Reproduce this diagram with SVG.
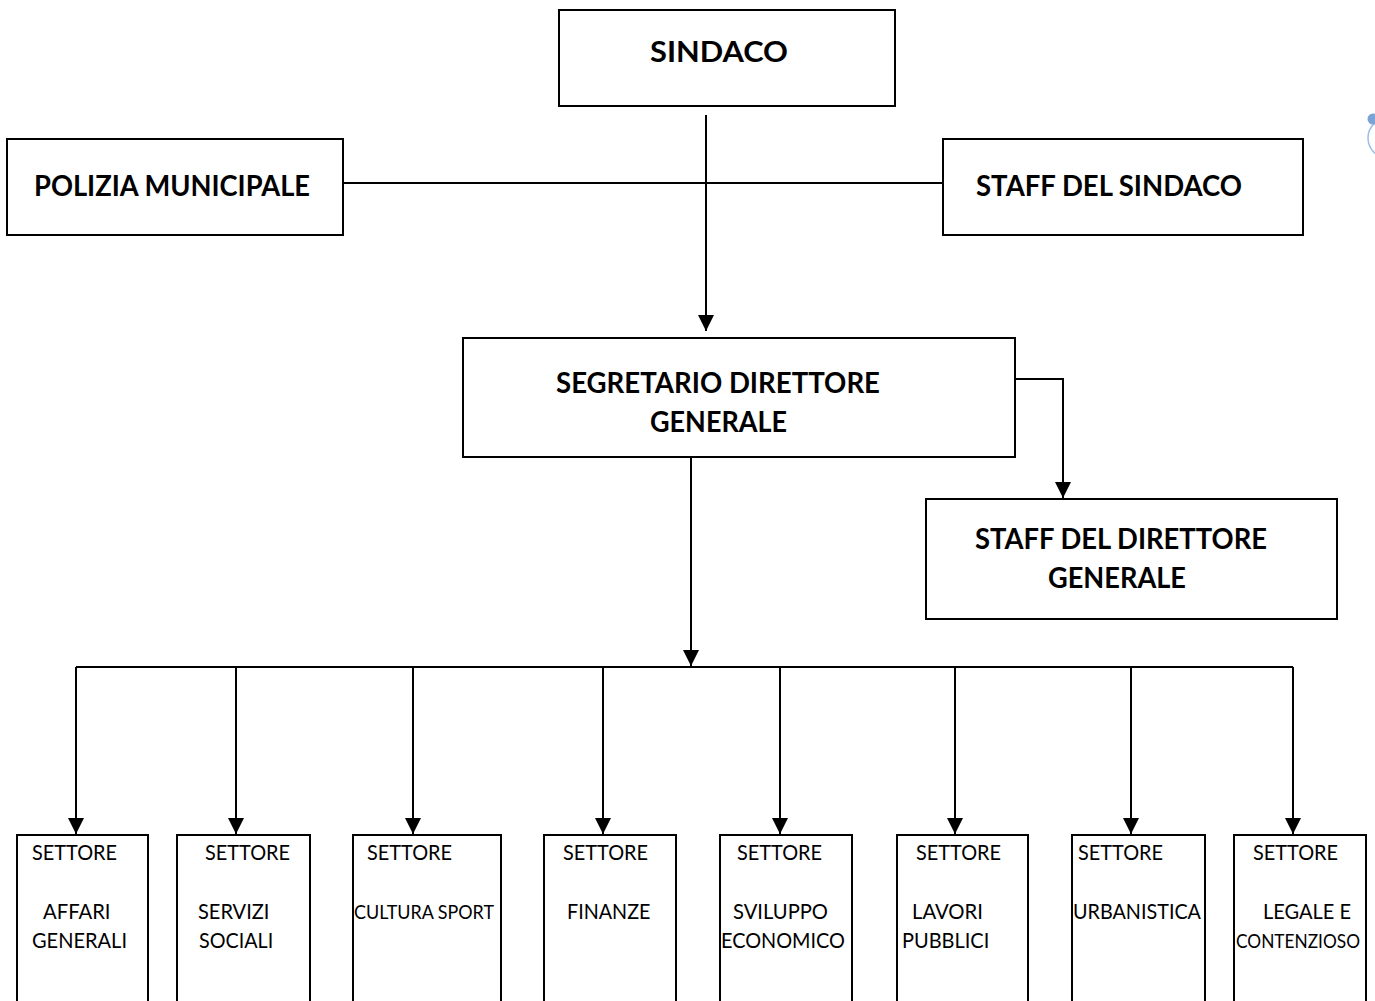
<svg xmlns="http://www.w3.org/2000/svg" width="1375" height="1001" viewBox="0 0 1375 1001">
<style>
.box{fill:#fff;stroke:#000;stroke-width:2}
.b{font-family:Lato,"Open Sans","Liberation Sans",sans-serif;font-weight:bold;font-size:28.5px;fill:#000}
.t{font-family:Lato,"Open Sans","Liberation Sans",sans-serif;font-size:21px;fill:#000}
.s{font-size:18.8px}
.c{fill:none;stroke:#000;stroke-width:2}
</style>
<defs>
<marker id="ah" markerUnits="userSpaceOnUse" markerWidth="16" markerHeight="16" refX="16" refY="8" orient="auto" viewBox="0 0 16 16">
<path d="M0,0 L16,8 L0,16 z" fill="#000"/>
</marker>
</defs>
<rect width="1375" height="1001" fill="#fff"/>

<g id="decoration">
<circle cx="1388" cy="138" r="20" fill="none" stroke="#9ebde6" stroke-width="1.5"/>
<circle cx="1373" cy="119" r="5.5" fill="#7ba3d6"/>
</g>

<g id="connectors">
<path class="c" d="M706,115 V331" marker-end="url(#ah)"/>
<path class="c" d="M343,183 H943"/>
<path class="c" d="M1015,379 H1063 V498" marker-end="url(#ah)"/>
<path class="c" d="M691,452 V666" marker-end="url(#ah)"/>
<path class="c" d="M76,667 H1293"/>
<path class="c" d="M76,667 V834" marker-end="url(#ah)"/>
<path class="c" d="M236,667 V834" marker-end="url(#ah)"/>
<path class="c" d="M413,667 V834" marker-end="url(#ah)"/>
<path class="c" d="M603,667 V834" marker-end="url(#ah)"/>
<path class="c" d="M780,667 V834" marker-end="url(#ah)"/>
<path class="c" d="M955,667 V834" marker-end="url(#ah)"/>
<path class="c" d="M1131,667 V834" marker-end="url(#ah)"/>
<path class="c" d="M1293,667 V834" marker-end="url(#ah)"/>
</g>

<g id="sindaco">
<rect class="box" x="559" y="10" width="336" height="96"/>
<text class="b" x="650" y="62" font-size="32" textLength="138" lengthAdjust="spacingAndGlyphs">SINDACO</text>
</g>

<g id="polizia">
<rect class="box" x="7" y="139" width="336" height="96"/>
<text class="b" x="34" y="196" textLength="276" lengthAdjust="spacingAndGlyphs">POLIZIA MUNICIPALE</text>
</g>

<g id="staff-sindaco">
<rect class="box" x="943" y="139" width="360" height="96"/>
<text class="b" x="976" y="196" textLength="266" lengthAdjust="spacingAndGlyphs">STAFF DEL SINDACO</text>
</g>

<g id="segretario">
<rect class="box" x="463" y="338" width="552" height="119"/>
<text class="b" x="556" y="393" textLength="324" lengthAdjust="spacingAndGlyphs">SEGRETARIO DIRETTORE</text>
<text class="b" x="650" y="432" textLength="137" lengthAdjust="spacingAndGlyphs">GENERALE</text>
</g>

<g id="staff-direttore">
<rect class="box" x="926" y="499" width="411" height="120"/>
<text class="b" x="975" y="549" textLength="292" lengthAdjust="spacingAndGlyphs">STAFF DEL DIRETTORE</text>
<text class="b" x="1048" y="588" textLength="138" lengthAdjust="spacingAndGlyphs">GENERALE</text>
</g>

<g id="settore-affari-generali">
<rect class="box" x="17" y="835" width="131" height="180"/>
<text class="t" x="32" y="860" textLength="85" lengthAdjust="spacingAndGlyphs">SETTORE</text>
<text class="t" x="43" y="919" textLength="67.5" lengthAdjust="spacingAndGlyphs">AFFARI</text>
<text class="t" x="32" y="948" textLength="95" lengthAdjust="spacingAndGlyphs">GENERALI</text>
</g>

<g id="settore-servizi-sociali">
<rect class="box" x="177" y="835" width="133" height="180"/>
<text class="t" x="205" y="860" textLength="85" lengthAdjust="spacingAndGlyphs">SETTORE</text>
<text class="t" x="198" y="919" textLength="71.4" lengthAdjust="spacingAndGlyphs">SERVIZI</text>
<text class="t" x="199" y="948" textLength="74.2" lengthAdjust="spacingAndGlyphs">SOCIALI</text>
</g>

<g id="settore-cultura-sport">
<rect class="box" x="353" y="835" width="148" height="180"/>
<text class="t" x="367" y="860" textLength="85" lengthAdjust="spacingAndGlyphs">SETTORE</text>
<text class="t s" x="354" y="919" textLength="140" lengthAdjust="spacingAndGlyphs">CULTURA SPORT</text>
</g>

<g id="settore-finanze">
<rect class="box" x="544" y="835" width="132" height="180"/>
<text class="t" x="563" y="860" textLength="85" lengthAdjust="spacingAndGlyphs">SETTORE</text>
<text class="t" x="567" y="919" textLength="83.4" lengthAdjust="spacingAndGlyphs">FINANZE</text>
</g>

<g id="settore-sviluppo-economico">
<rect class="box" x="720" y="835" width="132" height="180"/>
<text class="t" x="737" y="860" textLength="85" lengthAdjust="spacingAndGlyphs">SETTORE</text>
<text class="t" x="733" y="919" textLength="95" lengthAdjust="spacingAndGlyphs">SVILUPPO</text>
<text class="t" x="721" y="948" textLength="124" lengthAdjust="spacingAndGlyphs">ECONOMICO</text>
</g>

<g id="settore-lavori-pubblici">
<rect class="box" x="897" y="835" width="131" height="180"/>
<text class="t" x="916" y="860" textLength="85" lengthAdjust="spacingAndGlyphs">SETTORE</text>
<text class="t" x="912" y="919" textLength="71" lengthAdjust="spacingAndGlyphs">LAVORI</text>
<text class="t" x="902" y="948" textLength="87.3" lengthAdjust="spacingAndGlyphs">PUBBLICI</text>
</g>

<g id="settore-urbanistica">
<rect class="box" x="1072" y="835" width="133" height="180"/>
<text class="t" x="1078" y="860" textLength="85" lengthAdjust="spacingAndGlyphs">SETTORE</text>
<text class="t" x="1073" y="919" textLength="128" lengthAdjust="spacingAndGlyphs">URBANISTICA</text>
</g>

<g id="settore-legale-contenzioso">
<rect class="box" x="1234" y="835" width="132" height="180"/>
<text class="t" x="1253" y="860" textLength="85" lengthAdjust="spacingAndGlyphs">SETTORE</text>
<text class="t" x="1263" y="919" textLength="88" lengthAdjust="spacingAndGlyphs">LEGALE E</text>
<text class="t s" x="1236" y="948" textLength="124" lengthAdjust="spacingAndGlyphs">CONTENZIOSO</text>
</g>
</svg>
